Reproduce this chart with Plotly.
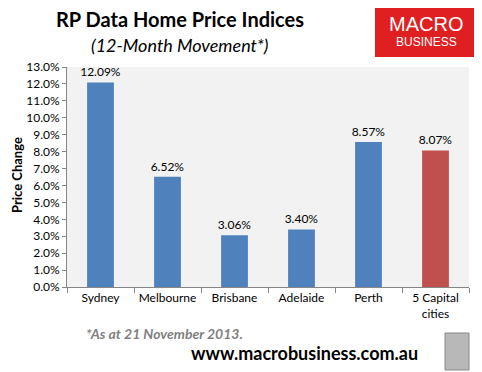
import plotly.graph_objects as go

categories = ["Sydney", "Melbourne", "Brisbane", "Adelaide", "Perth", "5 Capital<br>cities"]
values = [12.09, 6.52, 3.06, 3.40, 8.57, 8.07]
colors = ["#4F81BD"] * 5 + ["#C0504D"]
tick_vals = [i * 1.0 for i in range(14)]
tick_text = [f"{v:.1f}%" for v in tick_vals]

FONT = "Lato, Carlito, Calibri, 'DejaVu Sans', sans-serif"

OFF = 8  # page body margin
W, H = 482 - OFF, 372 - OFF
L, R, T, B = 67 - OFF, 13, 67 - OFF, 85
PW, PH = W - L - R, H - T - B


def px(x):
    return (x - OFF - L) / PW


def py(y):
    return (H - B - (y - OFF)) / PH


fig = go.Figure(go.Bar(
    x=categories, y=values, marker=dict(color=colors, line=dict(width=0)),
    width=0.4,
    text=[f"{v:.2f}%" for v in values], textposition="outside",
    constraintext="none",
    textfont=dict(size=12, color="#000000", family=FONT),
    cliponaxis=False,
))


def ann(text, x, y, size, color="#000000", family=FONT, xanchor="center", **kw):
    return dict(text=text, xref="paper", yref="paper", x=px(x), y=py(y),
                xanchor=xanchor, yanchor="middle", showarrow=False,
                font=dict(size=size, color=color, family=family), **kw)


fig.update_layout(
    width=W, height=H,
    margin=dict(l=L, r=R, t=T, b=B),
    paper_bgcolor="white", plot_bgcolor="#F2F2F2",
    showlegend=False,
    font=dict(family=FONT, color="#000000", size=12),
    xaxis=dict(showline=True, linecolor="#868686", linewidth=1,
               ticks="outside", ticklen=5, tickcolor="#868686",
               tickson="boundaries", tickfont=dict(size=12), showgrid=False,
               automargin=False),
    yaxis=dict(range=[0, 13], tickvals=tick_vals, ticktext=tick_text,
               showline=True, linecolor="#868686", linewidth=1,
               ticks="outside", ticklen=4, tickcolor="#868686",
               showgrid=False, zeroline=False, tickfont=dict(size=12),
               automargin=False),
    shapes=[
        dict(type="rect", xref="paper", yref="paper", x0=px(375), x1=px(476),
             y0=py(57), y1=py(5), fillcolor="#E02020", line=dict(width=0), layer="above"),
        dict(type="rect", xref="paper", yref="paper", x0=px(445), x1=px(469),
             y0=py(370), y1=py(333), fillcolor="#B8B8B8",
             line=dict(width=1, color="#888888"), layer="above"),
    ],
    annotations=[
        ann("<b>Price Change</b>", 17, 175, 13, textangle=-90),
        ann("<b>RP Data Home Price Indices</b>", 180, 19, 20),
        ann("<i>(12-Month Movement*)</i>", 180, 45, 18),
        ann("MACRO", 426, 24, 20, color="white", family="Arial, 'Liberation Sans', sans-serif"),
        ann("BUSINESS", 426, 42, 12, color="white", family="Arial, 'Liberation Sans', sans-serif"),
        ann("<b><i>*As at 21 November 2013.</i></b>", 84, 333, 14, color="#7F7F7F", xanchor="left"),
        ann("<b>www.macrobusiness.com.au</b>", 304, 353, 18),
    ],
)

fig.write_html("out.html")
